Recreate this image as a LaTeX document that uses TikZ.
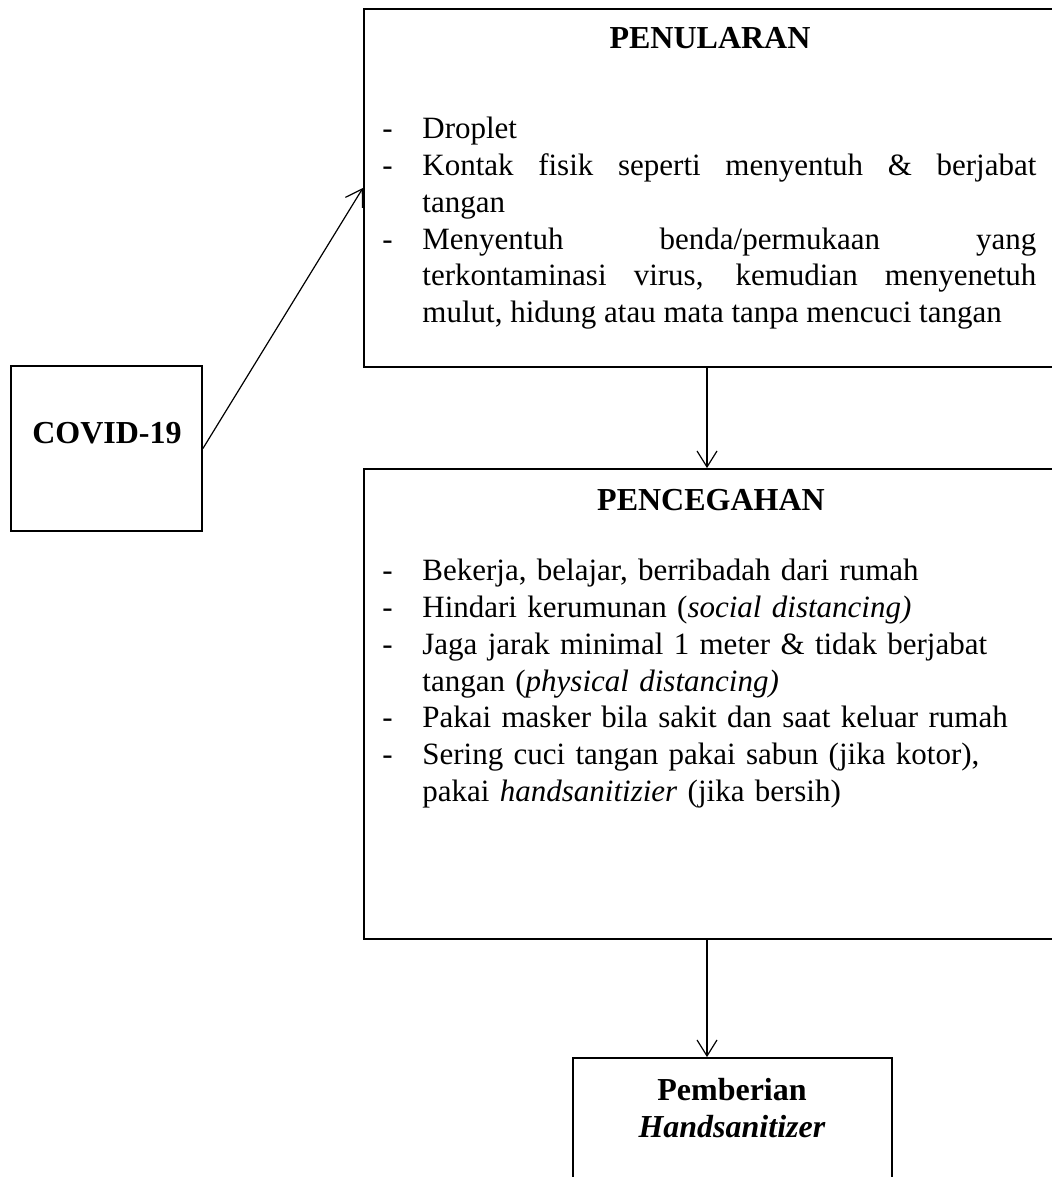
\documentclass[tikz,border=0pt]{standalone}
\usepackage{fontspec}
\setmainfont{Liberation Serif}
\usetikzlibrary{arrows.meta}
\tikzset{
	kotak/.style={draw, line width=0.9pt, inner sep=0pt},
	judul/.style={font=\fontsize{16}{19}\selectfont\bfseries, inner sep=0pt, anchor=base},
	isi/.style={font=\fontsize{15.5}{18.4}\selectfont, inner sep=0pt, anchor=north west, text width=327pt},
	panah/.style={line width=0.6pt, -{Straight Barb[length=8pt,width=10pt]}}
}
\newcommand{\butir}[1]{\par\noindent\hangindent=20pt\hangafter=1\makebox[20pt][l]{-}#1}

\begin{document}
\begin{tikzpicture}[x=0.5pt, y=-0.5pt]
		%%%%% START %%%%%
		\useasboundingbox (0, 0) rectangle (1051, 1177);
		
		\node[kotak, minimum width=95.5pt, minimum height=82.5pt] (covid) at (106.5, 448.5) {};
		\node[judul] (judulcovid) at (107, 443) {COVID-19};
		
		\node[kotak, minimum width=348pt, minimum height=179pt] (penularan) at (711.8, 188) {};
		\node[judul] (judulpenularan) at (710, 49) {PENULARAN};
		\node[isi, align=justify] (isipenularan) at (382, 101.5) {\sloppy
			\butir{Droplet}
			\butir{Kontak fisik seperti menyentuh \& berjabat\linebreak tangan}
			\butir{Menyentuh benda/permukaan yang\linebreak terkontaminasi virus, kemudian menyenetuh\linebreak mulut, hidung atau mata tanpa mencuci tangan}\par};
		
		\node[kotak, minimum width=348pt, minimum height=235pt] (pencegahan) at (711.8, 704) {};
		\node[judul] (judulpencegahan) at (711, 510) {PENCEGAHAN};
		\node[isi, align=left] (isipencegahan) at (382, 543.5) {
			\butir{Bekerja, belajar, berribadah dari rumah}
			\butir{Hindari kerumunan (\textit{social distancing)}}
			\butir{Jaga jarak minimal 1 meter \& tidak berjabat\newline tangan (\textit{physical distancing)}}
			\butir{Pakai masker bila sakit dan saat keluar rumah}
			\butir{Sering cuci tangan pakai sabun (jika kotor),\newline pakai \textit{handsanitizier} (jika bersih)}\par};
		
		\node[kotak, minimum width=159.5pt, minimum height=91pt] (pemberian) at (732.5, 1149) {};
		\node[judul] (judulpemberian) at (732, 1100) {Pemberian};
		\node[judul] (judulhand) at (732, 1137) {\textit{Handsanitizer}};
		
		% panah
		\coordinate (jalur) at (707, 0);
		\draw[panah] (covid.east) -- (penularan.west);
		\draw[panah] (penularan.south -| jalur) -- (pencegahan.north -| jalur);
		\draw[panah] (pencegahan.south -| jalur) -- (pemberian.north -| jalur);
		%%%%% END %%%%%
\end{tikzpicture}
\end{document}
